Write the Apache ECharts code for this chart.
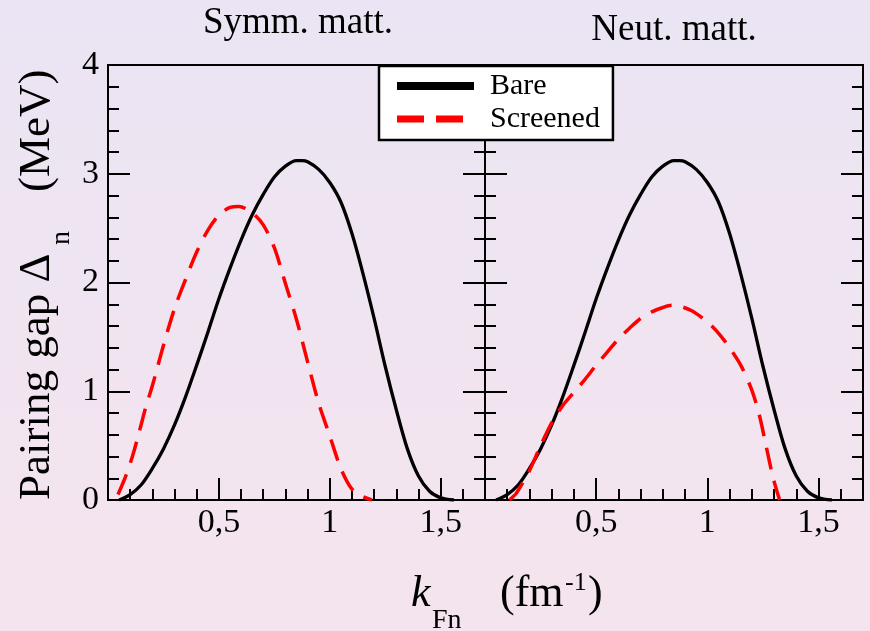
<!DOCTYPE html>
<html>
<head>
<meta charset="utf-8">
<script src="https://cdn.jsdelivr.net/npm/echarts@6/dist/echarts.min.js"></script>
<style>
  html, body { margin: 0; padding: 0; }
  #chart { width: 870px; height: 631px; }
</style>
</head>
<body>
<div id="chart"></div>
<script>
// Neutron 1S0 pairing gap vs Fermi momentum k_Fn (fm^-1), gap in MeV.

// Bare gap (same curve in both panels)
const kBare = [0.05, 0.10, 0.15, 0.20, 0.25, 0.30, 0.35, 0.40, 0.45, 0.50, 0.55, 0.60, 0.65, 0.70,
  0.75, 0.80, 0.85, 0.875, 0.90, 0.95, 1.00, 1.05, 1.10, 1.15, 1.20, 1.25, 1.30, 1.35, 1.40, 1.45, 1.50, 1.56];
const gapBare = [0, 0.05, 0.14, 0.29, 0.47, 0.69, 0.95, 1.24, 1.54, 1.85, 2.13, 2.39, 2.62, 2.81,
  2.97, 3.07, 3.12, 3.12, 3.11, 3.04, 2.92, 2.74, 2.45, 2.08, 1.67, 1.23, 0.83, 0.47, 0.22, 0.08, 0.02, 0];

// Screened gap, symmetric nuclear matter
const kScrSymm = [0.045, 0.08, 0.11, 0.14, 0.17, 0.20, 0.25, 0.30, 0.35, 0.40, 0.45, 0.50, 0.55, 0.59,
  0.65, 0.70, 0.75, 0.80, 0.85, 0.90, 0.95, 1.00, 1.05, 1.10, 1.15, 1.19];
const gapScrSymm = [0.05, 0.22, 0.40, 0.62, 0.85, 1.05, 1.42, 1.76, 2.03, 2.28, 2.48, 2.62, 2.69, 2.70,
  2.64, 2.53, 2.32, 1.99, 1.66, 1.27, 0.89, 0.59, 0.29, 0.10, 0.03, 0];

// Screened gap, pure neutron matter
const kScrNeut = [0.11, 0.14, 0.17, 0.20, 0.25, 0.30, 0.35, 0.40, 0.45, 0.50, 0.55, 0.60, 0.65, 0.70,
  0.75, 0.80, 0.84, 0.88, 0.93, 0.98, 1.02, 1.06, 1.10, 1.15, 1.20, 1.235, 1.265, 1.295, 1.325];
const gapScrNeut = [0, 0.06, 0.16, 0.27, 0.50, 0.71, 0.87, 0.99, 1.11, 1.24, 1.36, 1.48, 1.58, 1.67,
  1.73, 1.77, 1.79, 1.78, 1.74, 1.67, 1.60, 1.51, 1.40, 1.24, 1.01, 0.77, 0.49, 0.21, 0];

const panelTitles = ['Symm. matt.', 'Neut. matt.'];
const seriesNames = ['Bare', 'Screened'];
const kRange = [0, 1.7];
const gapRange = [0, 4];

const SERIF = '"Liberation Serif", "Times New Roman", serif';
const zip = (xs, ys) => xs.map((x, i) => [x, ys[i]]);
const commaLabel = v => (v <= 0 || v > 1.6) ? '' : String(+v.toFixed(1)).replace('.', ',');

const grids = [
  { left: 108, top: 65, width: 377, height: 435 },
  { left: 485, top: 65, width: 378, height: 435 }
].map(g => Object.assign(g, {
  show: true, borderColor: '#000', borderWidth: 2, backgroundColor: 'transparent',
  outerBoundsMode: 'none', containLabel: false
}));

const tickLine = { color: '#000', width: 2 };

function xAxesFor(gridIndex) {
  return [
    { // major ticks every 0.5 with labels
      type: 'value', gridIndex, position: 'bottom', min: kRange[0], max: kRange[1], interval: 0.5,
      axisLine: { show: true, onZero: false, lineStyle: { color: '#000', width: 2 } },
      axisTick: { show: true, inside: true, length: 22, lineStyle: tickLine },
      axisLabel: { show: true, formatter: commaLabel, color: '#000', fontFamily: SERIF, fontSize: 34, margin: 6 },
      splitLine: { show: false }
    },
    { // short ticks every 0.1
      type: 'value', gridIndex, position: 'bottom', min: kRange[0], max: kRange[1], interval: 0.1,
      axisLine: { show: false, onZero: false },
      axisTick: { show: true, inside: true, length: 11, lineStyle: tickLine },
      axisLabel: { show: false },
      splitLine: { show: false }
    }
  ];
}

function yAxis(gridIndex, position, labels) {
  return {
    type: 'value', gridIndex, position, min: gapRange[0], max: gapRange[1], interval: 1,
    axisLine: { show: true, onZero: false, lineStyle: { color: '#000', width: 2 } },
    axisTick: { show: true, inside: true, length: 22, lineStyle: tickLine },
    minorTick: { show: true, splitNumber: 5, length: 11, lineStyle: tickLine },
    axisLabel: { show: labels, color: '#000', fontFamily: SERIF, fontSize: 34, margin: 9 },
    splitLine: { show: false }, minorSplitLine: { show: false }
  };
}

function line(name, xAxisIndex, yAxisIndex, data, color, type, width) {
  return {
    name, type: 'line', xAxisIndex, yAxisIndex, data,
    symbol: 'none', showSymbol: false, smooth: 0.3,
    lineStyle: { color, width, type, cap: 'butt', join: 'round' }, itemStyle: { color },
    silent: true, z: 3
  };
}

const textEl = (x, y, text, font, align, extra) => Object.assign({
  type: 'text', x, y, silent: true,
  style: { text, font, fill: '#000', align: align, textAlign: align, verticalAlign: 'middle', textVerticalAlign: 'middle' }
}, extra || {});

const chart = echarts.init(document.getElementById('chart'), null, { renderer: 'canvas' });
chart.setOption({
  animation: false,
  backgroundColor: {
    type: 'linear', x: 0, y: 0, x2: 0, y2: 1,
    colorStops: [{ offset: 0, color: '#ebe4f4' }, { offset: 1, color: '#f5e4ee' }]
  },
  grid: grids,
  xAxis: [...xAxesFor(0), ...xAxesFor(1)],
  yAxis: [yAxis(0, 'left', true), yAxis(0, 'right', false), yAxis(1, 'left', false), yAxis(1, 'right', false)],
  legend: {
    orient: 'vertical', left: 379, top: 66, padding: [5, 13, 6, 14], itemGap: 3,
    itemWidth: 77, itemHeight: 8, selectedMode: false,
    backgroundColor: '#ffffff', borderColor: '#000', borderWidth: 2.5, borderRadius: 0,
    itemStyle: { opacity: 0 },
    textStyle: { fontFamily: SERIF, fontSize: 30, color: '#000', lineHeight: 30, padding: [0, 0, 0, 11] },
    data: [
      { name: seriesNames[0], lineStyle: { width: 8, color: '#000', type: 'solid' } },
      { name: seriesNames[1], lineStyle: { width: 7, color: '#ff0000', type: [27, 12] } }
    ]
  },
  series: [
    line(seriesNames[0], 0, 0, zip(kBare, gapBare), '#000', 'solid', 3.3),
    line(seriesNames[1], 0, 0, zip(kScrSymm, gapScrSymm), '#ff0000', [22, 12], 3.5),
    line(seriesNames[0], 2, 2, zip(kBare, gapBare), '#000', 'solid', 3.3),
    line(seriesNames[1], 2, 2, zip(kScrNeut, gapScrNeut), '#ff0000', [22, 12], 3.5)
  ],
  graphic: [
    textEl(298, 23, panelTitles[0], '37px ' + SERIF, 'center'),
    textEl(674, 30, panelTitles[1], '37px ' + SERIF, 'center'),
    // y axis title, reading bottom to top
    textEl(37.5, 500, 'Pairing gap \u0394', '45px ' + SERIF, 'left', { rotation: Math.PI / 2 }),
    textEl(62, 245, 'n', '28px ' + SERIF, 'left', { rotation: Math.PI / 2 }),
    textEl(37.5, 192, '(MeV)', '45px ' + SERIF, 'left', { rotation: Math.PI / 2 }),
    // x axis title
    textEl(411, 594.5, 'k', 'italic 44px ' + SERIF, 'left'),
    textEl(432, 621, 'Fn', '28px ' + SERIF, 'left'),
    textEl(500, 594.5, '(fm', '44px ' + SERIF, 'left'),
    textEl(565, 583.5, '-1', '26px ' + SERIF, 'left'),
    textEl(588, 594.5, ')', '44px ' + SERIF, 'left')
  ]
});
</script>
</body>
</html>
